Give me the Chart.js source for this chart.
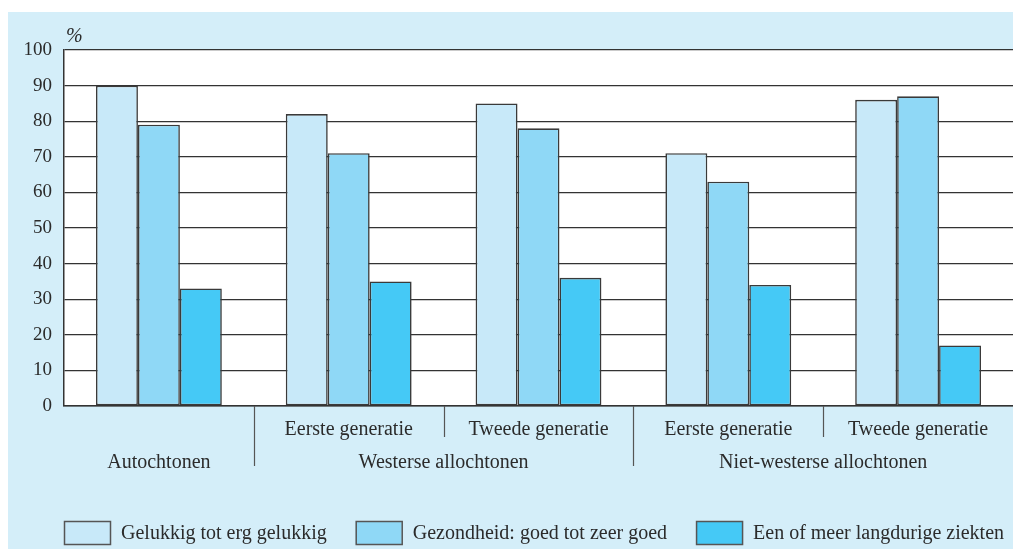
<!DOCTYPE html>
<html>
<head>
<meta charset="utf-8">
<script src="https://cdn.jsdelivr.net/npm/chart.js@4"></script>
<style>
  html, body { margin: 0; padding: 0; background: #ffffff; }
  #wrap { position: absolute; left: 8px; top: 12px; width: 1005px; height: 537px; background: #d4eef9; }
  canvas { display: block; }
</style>
</head>
<body>
<div id="wrap"><canvas id="c" width="1005" height="537"></canvas></div>
<script>
const subLabels = ['', 'Eerste generatie', 'Tweede generatie', 'Eerste generatie', 'Tweede generatie'];
const groupLabels = ['Autochtonen', 'Westerse allochtonen', 'Niet-westerse allochtonen'];
const groupSpans = [[0, 0], [1, 2], [3, 4]];
const seriesNames = ['Gelukkig tot erg gelukkig', 'Gezondheid: goed tot zeer goed', 'Een of meer langdurige ziekten'];
const gelukkig = [90, 82, 85, 71, 86];
const gezondheid = [79, 71, 78, 63, 87];
const ziekten = [33, 35, 36, 34, 17];
const seriesColors = ['#c8e9f9', '#8fd8f6', '#45c9f6'];
const yTicks = [0, 10, 20, 30, 40, 50, 60, 70, 80, 90, 100];

const FONT = '"Liberation Serif", "DejaVu Serif", serif';
const TXT = '#2b2b2b';

const extras = {
  id: 'extras',
  beforeDraw(chart) {
    const { ctx, chartArea } = chart;
    ctx.save();
    ctx.fillStyle = '#ffffff';
    ctx.fillRect(chartArea.left, chartArea.top, chartArea.right - chartArea.left, chartArea.bottom - chartArea.top);
    ctx.restore();
  },
  afterDraw(chart) {
    const { ctx, chartArea, scales } = chart;
    const x = scales.x;
    const bottom = chartArea.bottom;
    ctx.save();
    // % label
    ctx.font = 'italic 20px ' + FONT;
    ctx.fillStyle = TXT;
    ctx.textAlign = 'left';
    ctx.textBaseline = 'middle';
    ctx.fillText('%', chartArea.left + 2, chartArea.top - 13);
    // separators
    ctx.strokeStyle = '#555555';
    ctx.lineWidth = 1.2;
    const n = chart.data.labels.length;
    for (let i = 0; i < n - 1; i++) {
      const xb = (x.getPixelForValue(i) + x.getPixelForValue(i + 1)) / 2;
      const long = (i === 0 || i === 2);
      ctx.beginPath();
      ctx.moveTo(Math.round(xb) + 0.5, bottom);
      ctx.lineTo(Math.round(xb) + 0.5, bottom + (long ? 60 : 31));
      ctx.stroke();
    }
    // group labels
    ctx.font = '20px ' + FONT;
    ctx.fillStyle = TXT;
    ctx.textAlign = 'center';
    ctx.textBaseline = 'middle';
    groupLabels.forEach((g, k) => {
      const [a, b] = groupSpans[k];
      const cx = (x.getPixelForValue(a) + x.getPixelForValue(b)) / 2;
      ctx.fillText(g, cx, bottom + 57);
    });
    // legend
    let lx = chartArea.left;
    const by = 509, bw = 46, bh = 23;
    ctx.textAlign = 'left';
    chart.data.datasets.forEach((ds) => {
      ctx.fillStyle = ds.backgroundColor;
      ctx.fillRect(lx, by, bw, bh);
      ctx.strokeStyle = '#555555';
      ctx.lineWidth = 1.5;
      ctx.strokeRect(lx + 0.5, by + 0.5, bw, bh);
      ctx.fillStyle = TXT;
      ctx.fillText(ds.label, lx + bw + 11, by + bh / 2 + 1);
      lx += bw + 11 + ctx.measureText(ds.label).width + 29;
    });
    ctx.restore();
  }
};

const datasets = [gelukkig, gezondheid, ziekten].map((d, i) => ({
  label: seriesNames[i],
  data: d,
  backgroundColor: seriesColors[i],
  borderColor: '#3a3a3a',
  borderWidth: 1.6,
  borderSkipped: false,
  categoryPercentage: 0.663,
  barPercentage: 1.0
}));

new Chart(document.getElementById('c'), {
  type: 'bar',
  data: { labels: subLabels, datasets },
  options: {
    responsive: false,
    animation: false,
    devicePixelRatio: 1,
    layout: { padding: { top: 38, left: 0, right: 0, bottom: 0 } },
    plugins: { legend: { display: false }, tooltip: { enabled: false } },
    scales: {
      x: {
        grid: { display: false, drawTicks: false },
        border: { display: true, color: '#333333', width: 1.5 },
        ticks: { font: { family: FONT, size: 20 }, color: TXT, padding: 12, maxRotation: 0, autoSkip: false },
        afterFit(s) { s.height = 143; }
      },
      y: {
        min: 0, max: 100,
        afterBuildTicks(s) { s.ticks = yTicks.map(v => ({ value: v })); },
        grid: { color: '#333333', lineWidth: 1.2, drawTicks: false },
        border: { display: true, color: '#333333', width: 1.5 },
        ticks: { font: { family: FONT, size: 19 }, color: TXT, padding: 12 },
        afterFit(s) { s.width = 56; }
      }
    }
  },
  plugins: [extras]
});
</script>
</body>
</html>
